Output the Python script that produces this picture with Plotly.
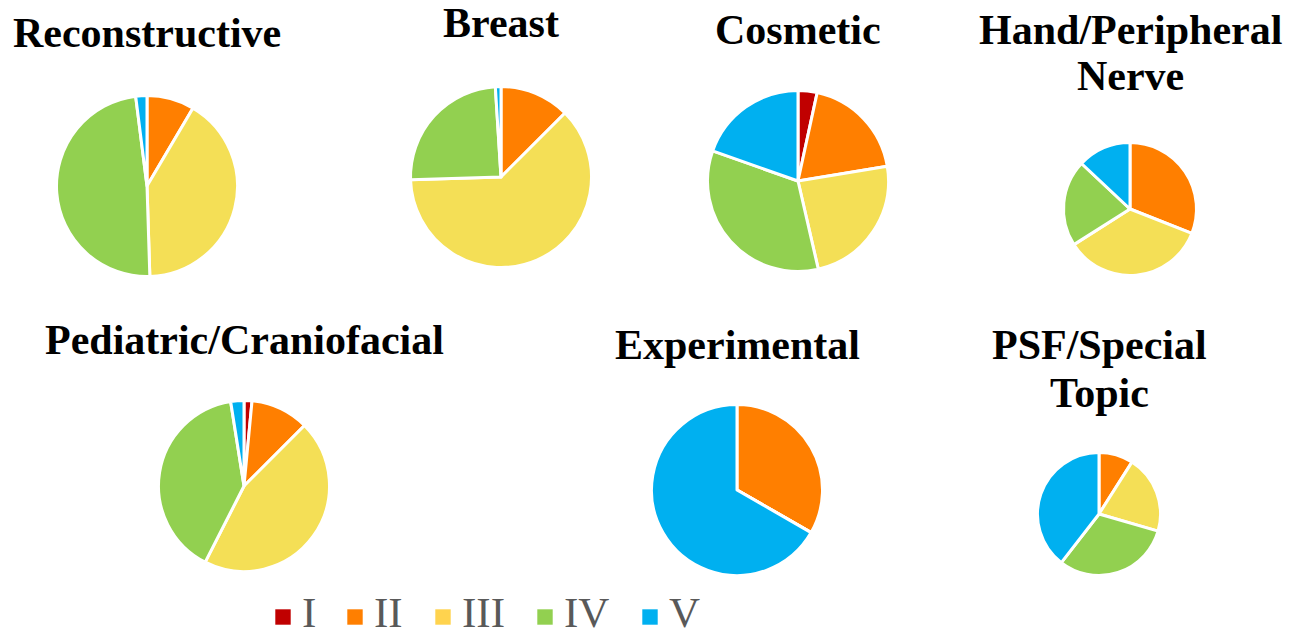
import plotly.graph_objects as go

# Citation level breakdown by subspecialty (percent of papers)
categories = ["I", "II", "III", "IV", "V"]
reconstructive = [0, 8.5, 41.0, 48.5, 2.0]
breast = [0, 12.5, 62.0, 24.5, 1.0]
cosmetic = [3.4, 19.0, 24.0, 34.0, 19.6]
hand_nerve = [0, 31.0, 35.0, 21.0, 13.0]
pediatric = [1.5, 11.0, 45.0, 40.0, 2.5]
experimental = [0, 33.3, 0, 0, 66.7]
psf_special = [0, 9.0, 20.5, 31.0, 39.5]

W, H = 1302, 637
slice_colors = ["#C00000", "#FF7F00", "#F4DF56", "#92D050", "#00B0F0"]
legend_colors = ["#C00000", "#FF7F00", "#FFD34E", "#92D050", "#00B0F0"]

# (title lines, values, centre x, centre y, radius, title line y) in pixels
panels = [
    (["Reconstructive"], reconstructive, 147, 186, 89, [33]),
    (["Breast"], breast, 501, 177, 89, [23]),
    (["Cosmetic"], cosmetic, 798, 181, 89, [30]),
    (["Hand/Peripheral", "Nerve"], hand_nerve, 1130, 209, 65, [30, 76]),
    (["Pediatric/Craniofacial"], pediatric, 244, 486, 84, [340]),
    (["Experimental"], experimental, 737, 490, 84, [345]),
    (["PSF/Special", "Topic"], psf_special, 1099, 514, 60, [345, 393]),
]

fig = go.Figure()
annotations = []
shapes = []

for lines, vals, cx, cy, r, ty in panels:
    rr = r + 1.5
    fig.add_trace(go.Pie(
        labels=categories,
        values=vals,
        sort=False,
        direction="clockwise",
        rotation=0,
        textinfo="none",
        marker=dict(colors=slice_colors, line=dict(color="white", width=3)),
        domain=dict(x=[(cx - rr) / W, (cx + rr) / W],
                    y=[1 - (cy + rr) / H, 1 - (cy - rr) / H]),
        showlegend=False,
    ))
    for line, yy in zip(lines, ty):
        annotations.append(dict(
            text=line, x=cx / W, y=1 - yy / H, xref="paper", yref="paper",
            xanchor="center", yanchor="middle", showarrow=False,
            font=dict(family="Liberation Serif", size=42, color="black", weight="bold"),
        ))

# Legend row beneath the pies
legend_sq_x = [275, 347, 435, 537, 642]
sq = 16
sq_top = 609
for name, col, x0 in zip(categories, legend_colors, legend_sq_x):
    shapes.append(dict(
        type="rect", xref="paper", yref="paper",
        x0=x0 / W, x1=(x0 + sq) / W,
        y0=1 - (sq_top + sq) / H, y1=1 - sq_top / H,
        fillcolor=col, line=dict(color="rgba(255,255,255,0.6)", width=1),
    ))
    annotations.append(dict(
        text=name, x=(x0 + sq + 9) / W, y=1 - 612 / H, xref="paper", yref="paper",
        xanchor="left", yanchor="middle", showarrow=False,
        font=dict(family="Liberation Serif", size=43, color="#595959"),
    ))

fig.update_layout(
    width=W, height=H,
    margin=dict(l=0, r=0, t=0, b=0),
    paper_bgcolor="white",
    plot_bgcolor="white",
    annotations=annotations,
    shapes=shapes,
    showlegend=False,
)

fig.write_html("out.html")
